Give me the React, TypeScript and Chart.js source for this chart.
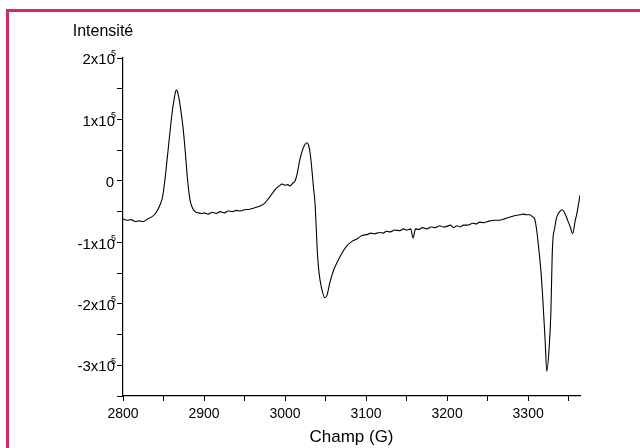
import React, { useEffect, useRef } from "react";
import { Chart, registerables } from "chart.js";

Chart.register(...registerables);

// Magnetic field (G)
const fields: number[] = [
  2800, 2805, 2810, 2815, 2820, 2825, 2830, 2835, 2840, 2842, 2846, 2849, 2852, 2855, 2858, 2861, 2863, 2865, 2866, 2867,
  2869, 2871, 2874, 2877, 2879, 2881, 2883, 2886, 2889, 2893, 2897, 2900, 2905, 2910, 2915, 2920, 2925, 2930, 2935, 2940,
  2945, 2950, 2956, 2962, 2969, 2975, 2980, 2985, 2990, 2993, 2996, 3000, 3003, 3006, 3010, 3012, 3015, 3018, 3021, 3024,
  3027, 3029, 3031, 3033, 3035, 3037, 3040, 3042, 3045, 3049, 3052, 3055, 3060, 3064, 3070, 3076, 3083, 3089, 3095, 3102,
  3106, 3110, 3117, 3121, 3125, 3130, 3135, 3142, 3146, 3150, 3155, 3158, 3161, 3165, 3170, 3175, 3180, 3185, 3191, 3195,
  3200, 3204, 3208, 3212, 3216, 3220, 3225, 3232, 3236, 3240, 3245, 3250, 3258, 3265, 3270, 3275, 3282, 3286, 3290, 3294,
  3298, 3302, 3305, 3308, 3310, 3313, 3316, 3318, 3321, 3323, 3326, 3328, 3330, 3333, 3335, 3339, 3342, 3346, 3349, 3352,
  3355, 3358, 3360, 3364,
];

// EPR intensity (arbitrary units)
const intensity: number[] = [
  -62000, -64000, -63000, -66000, -65000, -66000, -62000, -59000, -53000, -49000, -38000, -25000, 5000, 42000, 80000, 115000, 132000, 146000, 148000, 146000,
  135000, 118000, 88000, 45000, 12000, -15000, -33000, -45000, -50000, -52000, -53000, -52000, -54000, -51000, -53000, -50000, -52000, -49000, -50000, -48000,
  -49000, -47000, -46000, -44000, -41000, -36000, -28000, -19000, -11000, -8000, -5000, -7000, -6000, -8000, -3000, -1000, 12000, 33000, 48000, 58000,
  62000, 58000, 45000, 20000, -10000, -37000, -119000, -150000, -174000, -190000, -185000, -167000, -145000, -133000, -118000, -106000, -98000, -94000, -89000, -87000,
  -85000, -86000, -84000, -85000, -82000, -83000, -80000, -81000, -78000, -80000, -78000, -93000, -78000, -79000, -76000, -78000, -75000, -76000, -73000, -75000,
  -74000, -72000, -76000, -73000, -75000, -72000, -72000, -69000, -70000, -67000, -68000, -66000, -64000, -64000, -62000, -60000, -57000, -56000, -55000, -54000,
  -55000, -55000, -58000, -62000, -75000, -109000, -150000, -190000, -260000, -310000, -270000, -216000, -109000, -75000, -60000, -50000, -47000, -55000, -65000, -75000,
  -86000, -65000, -54000, -23000,
];

// Axis ticks
const xMin = 2800;
const xMax = 3364;
const yMin = -350000;
const yMax = 200000;

const FONT = "'Liberation Sans', Arial, sans-serif";

export default function App() {
  const ref = useRef<HTMLCanvasElement | null>(null);

  useEffect(() => {
    if (!ref.current) return;
    const labels = {
      id: "labels",
      afterDraw(chart: any) {
        const ctx = chart.ctx;
        const ys = chart.scales.y;
        ctx.save();
        ctx.fillStyle = "#000";
        ctx.font = `16px ${FONT}`;
        ctx.textAlign = "center";
        ctx.textBaseline = "middle";
        ctx.fillText("Intensité", chart.chartArea.left - 20, chart.chartArea.top - 26);
        for (const t of ys.ticks) {
          const v = Number(t.value);
          if (v % 100000 !== 0) continue;
          const py = ys.getPixelForValue(v) + 2;
          ctx.textAlign = "right";
          ctx.textBaseline = "middle";
          ctx.font = `15px ${FONT}`;
          if (v === 0) {
            ctx.fillText("0", 114, py);
          } else {
            ctx.fillText(`${v / 100000}x10`, 115, py);
            ctx.font = `9px ${FONT}`;
            ctx.textAlign = "left";
            ctx.fillText("5", 111, py - 6);
          }
        }
        ctx.restore();
      },
    };
    const chart = new Chart(ref.current, {
      type: "line",
      data: {
        datasets: [
          {
            data: fields.map((f, i) => ({ x: f, y: intensity[i] })),
            borderColor: "#000",
            borderWidth: 1.1,
            pointRadius: 0,
            cubicInterpolationMode: "monotone",
            fill: false,
          },
        ],
      },
      options: {
        animation: false,
        responsive: false,
        maintainAspectRatio: false,
        layout: { padding: { left: 0, top: 58, right: 60, bottom: 0 } },
        plugins: { legend: { display: false }, tooltip: { enabled: false } },
        scales: {
          x: {
            type: "linear",
            min: xMin,
            max: xMax,
            afterFit(scale: any) {
              scale.height = 52;
            },
            grid: { drawOnChartArea: false, drawTicks: true, tickLength: 5, color: "#000" },
            border: { color: "#000", width: 1.2 },
            ticks: {
              stepSize: 50,
              includeBounds: false,
              maxRotation: 0,
              autoSkip: false,
              padding: 5,
              color: "#000",
              font: { family: FONT, size: 14 },
              callback: (v: any) => (Number(v) % 100 === 0 ? String(v) : ""),
            },
            title: {
              display: true,
              text: "Champ (G)",
              color: "#000",
              font: { family: FONT, size: 17 },
              padding: { top: 0, bottom: 0 },
            },
          },
          y: {
            type: "linear",
            min: yMin,
            max: yMax,
            afterFit(scale: any) {
              scale.width = 123;
            },
            grid: { drawOnChartArea: false, drawTicks: true, tickLength: 6, color: "#000" },
            border: { color: "#000", width: 1.2 },
            ticks: {
              stepSize: 50000,
              autoSkip: false,
              display: false,
            },
          },
        },
      },
      plugins: [labels],
    });
    return () => chart.destroy();
  }, []);

  return (
    <div style={{ position: "fixed", left: 0, top: 0, width: 640, height: 448, background: "#fff" }}>
      <div style={{ position: "absolute", left: 6, top: 9, width: 634, height: 3, background: "#d12a6d" }} />
      <div style={{ position: "absolute", left: 6, top: 9, width: 3, height: 439, background: "#d12a6d" }} />
      <canvas ref={ref} width={640} height={448} style={{ position: "absolute", left: 0, top: 0 }} />
    </div>
  );
}
